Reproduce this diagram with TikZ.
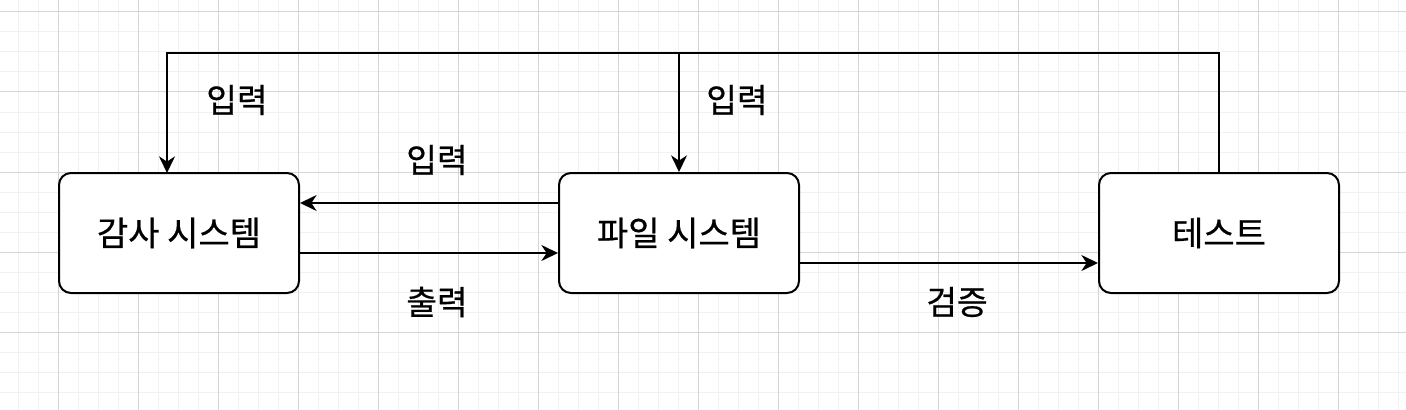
\documentclass[tikz,border=0pt]{standalone}
\usepackage{fontspec}
\setmainfont{Noto Sans CJK KR}[FakeBold=0.6]
\usetikzlibrary{arrows.meta}
\definecolor{minorgrid}{HTML}{F1F1F1}
\definecolor{majorgrid}{HTML}{D5D5D5}
\begin{document}
\begin{tikzpicture}[
    x=0.75pt, y=-0.75pt,
    box/.style={draw,line width=1.5pt,rounded corners=9pt,minimum width=180pt,minimum height=90pt,fill=white,font=\fontsize{25.5}{30}\selectfont},
    lbl/.style={font=\fontsize{25}{30}\selectfont},
    >={Stealth[length=12.5pt,width=12pt,inset=4pt]}
]
\useasboundingbox (0,0) rectangle (1406,410);
\fill[white] (0,0) rectangle (1406,410);
% grid
\foreach \x in {18,38,...,1398} \draw[minorgrid,line width=0.75pt] (\x,0)--(\x,410);
\foreach \y in {12,32,...,392} \draw[minorgrid,line width=0.75pt] (0,\y)--(1406,\y);
\foreach \x in {58,138,...,1338} \draw[majorgrid,line width=0.75pt] (\x,0)--(\x,410);
\foreach \y in {12,92,...,332} \draw[majorgrid,line width=0.75pt] (0,\y)--(1406,\y);

\node[box] (audit) at (179,233) {감사 시스템};
\node[box] (file) at (679,233) {파일 시스템};
\node[box] (test) at (1219,233) {테스트};

\coordinate (top1) at (1219,53);
\coordinate (top2) at (167,53);
\coordinate (top3) at (679,53);
\coordinate (in1) at (167,173);

\draw[->,line width=1.5pt] (file.west|-0,203)--(audit.east|-0,203);
\draw[->,line width=1.5pt] (audit.east|-0,253)--(file.west|-0,253);
\draw[->,line width=1.5pt] (file.east|-0,263)--(test.west|-0,263);
\draw[->,line width=1.5pt] (test.north)--(top1)--(top2)--(in1);
\draw[->,line width=1.5pt] (top3)--(file.north);

\node[lbl] (l1) at (237,100) {입력};
\node[lbl] (l2) at (737,100) {입력};
\node[lbl] (l3) at (437,160) {입력};
\node[lbl] (l4) at (437,302) {출력};
\node[lbl] (l5) at (957,302) {검증};
\end{tikzpicture}
\end{document}
